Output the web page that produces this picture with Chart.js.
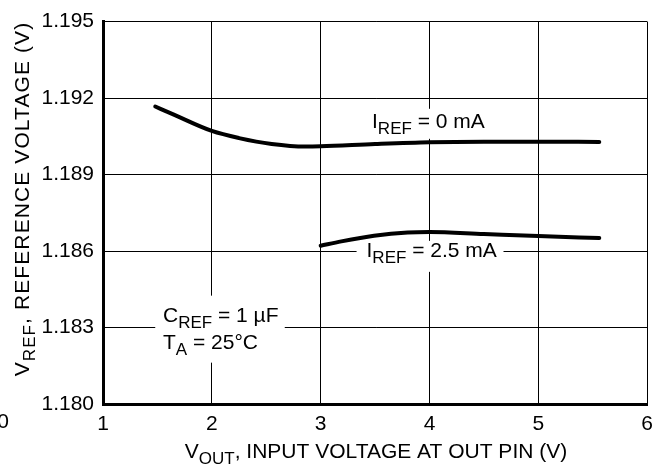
<!DOCTYPE html>
<html>
<head>
<meta charset="utf-8">
<script src="https://cdn.jsdelivr.net/npm/chart.js@4"></script>
<style>
  html, body { margin: 0; padding: 0; background: #fff; }
  #wrap { width: 661px; height: 469px; position: relative; }
</style>
</head>
<body>
<div id="wrap"><canvas id="myChart"></canvas></div>
<script>
// data
const xTicks = [1, 2, 3, 4, 5, 6];
const yTicks = [1.180, 1.183, 1.186, 1.189, 1.192, 1.195];

const vout0 = [1.48, 1.64, 2.0, 2.25, 2.55, 2.86, 3.0, 3.5, 4.0, 4.5, 5.0, 5.56];
const vref0 = [1.19167, 1.19137, 1.19071, 1.19043, 1.19020, 1.19010, 1.19011, 1.19020, 1.19027, 1.19029, 1.19029, 1.19028];

const vout25 = [3.0, 3.19, 3.49, 3.8, 4.0, 4.5, 5.0, 5.56];
const vref25 = [1.18621, 1.18638, 1.18660, 1.18673, 1.18675, 1.18667, 1.18659, 1.18651];

const FONT = '"Liberation Sans", Arial, sans-serif';

// text with subscript pieces: [['V'], ['REF', true], [', ...']]
function drawParts(ctx, parts, x, y, size, align) {
  const subSize = Math.round(size * 0.8);
  let w = 0;
  parts.forEach(p => {
    ctx.font = (p[1] ? subSize : size) + 'px ' + FONT;
    w += ctx.measureText(p[0]).width;
  });
  let cx = align === 'center' ? x - w / 2 : x;
  ctx.textAlign = 'left';
  ctx.textBaseline = 'alphabetic';
  ctx.fillStyle = '#000';
  parts.forEach(p => {
    ctx.font = (p[1] ? subSize : size) + 'px ' + FONT;
    ctx.fillText(p[0], cx, y + (p[1] ? size * 0.3 : 0));
    cx += ctx.measureText(p[0]).width;
  });
}

const labelPlugin = {
  id: 'labels',
  beforeDatasetsDraw(chart) {
    const { ctx, scales: { x, y } } = chart;
    ctx.save();
    ctx.fillStyle = '#fff';
    // white boxes behind the in-plot notes
    ctx.fillRect(x.getPixelForValue(3.6), y.getPixelForValue(1.19158), x.getPixelForValue(4.85) - x.getPixelForValue(3.6), 30);
    ctx.fillRect(x.getPixelForValue(3.33), y.getPixelForValue(1.18640), x.getPixelForValue(4.68) - x.getPixelForValue(3.33), 31);
    ctx.fillRect(x.getPixelForValue(1.48), y.getPixelForValue(1.18425), x.getPixelForValue(2.67) - x.getPixelForValue(1.48), 67);
    ctx.restore();
  },
  afterDatasetsDraw(chart) {
    const { ctx, scales: { x, y } } = chart;
    ctx.save();
    drawParts(ctx, [['I'], ['REF', true], [' = 0 mA']], x.getPixelForValue(3.99), 128, 21, 'center');
    drawParts(ctx, [['I'], ['REF', true], [' = 2.5 mA']], x.getPixelForValue(4.02), 257, 21, 'center');
    drawParts(ctx, [['C'], ['REF', true], [' = 1 \u00b5F']], 163, 322, 21, 'left');
    drawParts(ctx, [['T'], ['A', true], [' = 25\u00b0C']], 163, 349, 21, 'left');

    // axis titles
    drawParts(ctx, [['V'], ['OUT', true], [', INPUT VOLTAGE AT OUT PIN (V)']], 376, 458, 21, 'center');
    ctx.translate(29, 199);
    ctx.rotate(-Math.PI / 2);
    ctx.letterSpacing = '1.1px';
    drawParts(ctx, [['V'], ['REF', true], [', REFERENCE VOLTAGE (V)']], 0, 0, 21, 'center');
    ctx.restore();

    // stray "0" at far left of the x axis
    ctx.save();
    ctx.font = '21px ' + FONT;
    ctx.fillStyle = '#000';
    ctx.textAlign = 'right';
    ctx.textBaseline = 'top';
    ctx.fillText('0', 9, 412);
    ctx.restore();
  }
};

const data = {
  datasets: [{
    label: 'IREF = 0 mA',
    data: vout0.map((v, i) => ({ x: v, y: vref0[i] })),
    borderColor: '#000',
    borderWidth: 4,
    pointRadius: 0,
    cubicInterpolationMode: 'monotone',
    borderCapStyle: 'round'
  }, {
    label: 'IREF = 2.5 mA',
    data: vout25.map((v, i) => ({ x: v, y: vref25[i] })),
    borderColor: '#000',
    borderWidth: 4,
    pointRadius: 0,
    cubicInterpolationMode: 'monotone',
    borderCapStyle: 'round'
  }]
};

const config = {
  type: 'line',
  data,
  options: {
    responsive: false,
    animation: false,
    devicePixelRatio: 1,
    layout: { padding: { top: 19, right: 10, left: 0, bottom: 0 } },
    plugins: {
      legend: { display: false },
      tooltip: { enabled: false }
    },
    scales: {
      x: {
        type: 'linear',
        min: 1,
        max: 6,
        afterBuildTicks: s => { s.ticks = xTicks.map(v => ({ value: v })); },
        afterFit: s => { s.height = 65; },
        ticks: {
          color: '#000',
          font: { family: FONT, size: 21 },
          padding: 8,
          maxRotation: 0
        },
        grid: { color: '#000', lineWidth: 1, drawTicks: false },
        border: { color: '#000', width: 3 }
      },
      y: {
        type: 'linear',
        min: 1.180,
        max: 1.195,
        afterBuildTicks: s => { s.ticks = yTicks.map(v => ({ value: v })); },
        afterFit: s => { s.width = 103; },
        ticks: {
          color: '#000',
          font: { family: FONT, size: 21 },
          padding: 9,
          callback: v => v.toFixed(3)
        },
        grid: { color: '#000', lineWidth: 1, drawTicks: false },
        border: { color: '#000', width: 3 }
      }
    }
  },
  plugins: [labelPlugin]
};

const canvas = document.getElementById('myChart');
canvas.width = 661;
canvas.height = 469;
const myChart = new Chart(canvas, config);
</script>
</body>
</html>
